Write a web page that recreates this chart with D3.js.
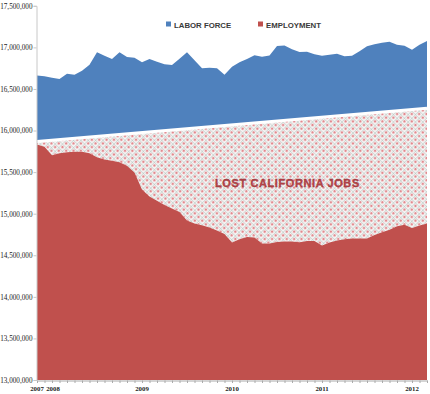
<!DOCTYPE html>
<html>
<head>
<meta charset="utf-8">
<script src="https://cdn.jsdelivr.net/npm/d3@7"></script>
<style>
  html, body { margin: 0; padding: 0; background: #fff; }
  svg { display: block; }
</style>
</head>
<body>
<svg id="canvas"></svg>
<script>
// monthly values, in thousands (Nov 2007 .. Mar 2012)
let laborForce = [16663, 16654, 16636, 16620, 16684, 16672, 16720, 16792, 16940, 16900,
  16861, 16940, 16885, 16876, 16820, 16861, 16828, 16798, 16788, 16864,
  16940, 16846, 16750, 16756, 16748, 16672, 16768, 16822, 16861, 16906,
  16888, 16903, 17017, 17024, 16978, 16945, 16948, 16918, 16900, 16912,
  16924, 16894, 16900, 16954, 17014, 17038, 17056, 17069, 17032, 17020,
  16972, 17032, 17077];

let employment = [15831, 15806, 15704, 15728, 15738, 15746, 15746, 15728, 15680, 15653,
  15638, 15620, 15576, 15494, 15290, 15206, 15157, 15103, 15061, 15019,
  14917, 14881, 14861, 14833, 14797, 14755, 14653, 14692, 14719, 14713,
  14641, 14641, 14659, 14665, 14665, 14656, 14671, 14671, 14617, 14655,
  14679, 14694, 14703, 14701, 14701, 14743, 14778, 14807, 14849, 14867,
  14829, 14859, 14881];

// trend line endpoints (first and last month)
let trend = [15867, 16269];

let yearLabels = ['2007', '2008', '2009', '2010', '2011', '2012'];
let yearIndex = [0, 2, 14, 26, 38, 50];

let yTicks = [13000, 13500, 14000, 14500, 15000, 15500, 16000, 16500, 17000, 17500];

let seriesNames = ['LABOR FORCE', 'EMPLOYMENT'];
let seriesColors = ['#4f81bd', '#c0504d'];

let canvas = d3.select('#canvas');

let drawChart = () => {
  const width = 430;
  const height = 394;
  canvas.attr('width', width).attr('height', height);

  const n = employment.length;
  const x = d3.scaleLinear().domain([0, n - 1]).range([37, 427]);
  const y = d3.scaleLinear().domain([13000000, 17500000]).range([380, 5.8]);

  const trendAt = i => trend[0] + (trend[1] - trend[0]) * i / (n - 1);

  // pattern for the lost jobs area
  const cell = 5.2;
  const defs = canvas.append('defs');
  const pat = defs.append('pattern')
    .attr('id', 'lattice')
    .attr('patternUnits', 'userSpaceOnUse')
    .attr('width', cell)
    .attr('height', cell)
    .attr('patternTransform', 'rotate(45)');
  pat.append('rect').attr('width', cell).attr('height', cell).attr('fill', '#f7f5f5');
  pat.append('path')
    .attr('d', `M0,0H${cell}M0,0V${cell}`)
    .attr('stroke', '#9fb5ae')
    .attr('stroke-width', 0.7);
  pat.append('circle')
    .attr('cx', cell / 2).attr('cy', cell / 2).attr('r', 1.3)
    .attr('fill', '#e3898e');

  const idx = d3.range(n);

  // labor force area, above the trend line
  canvas.append('path')
    .datum(idx)
    .attr('fill', seriesColors[0])
    .attr('d', d3.area()
      .x(i => x(i))
      .y0(i => y(trendAt(i) * 1000))
      .y1(i => y(laborForce[i] * 1000)));

  // lost jobs, between employment and the trend
  canvas.append('path')
    .datum(idx)
    .attr('fill', 'url(#lattice)')
    .attr('d', d3.area()
      .x(i => x(i))
      .y0(i => y(employment[i] * 1000))
      .y1(i => y(trendAt(i) * 1000)));

  // employment area
  canvas.append('path')
    .datum(idx)
    .attr('fill', seriesColors[1])
    .attr('d', d3.area()
      .x(i => x(i))
      .y0(y(13000000))
      .y1(i => y(employment[i] * 1000)));

  // white trend line
  canvas.append('line')
    .attr('x1', x(0)).attr('y1', y(trend[0] * 1000))
    .attr('x2', x(n - 1)).attr('y2', y(trend[1] * 1000))
    .attr('stroke', '#fff')
    .attr('stroke-width', 3);

  // y axis
  const yAxis = canvas.append('g')
    .attr('transform', 'translate(36.5,0)')
    .call(d3.axisLeft(y)
      .tickValues(yTicks.map(v => v * 1000))
      .tickSize(3)
      .tickFormat(d3.format(',')));
  yAxis.select('.domain').attr('stroke', '#c8c8c8');
  yAxis.selectAll('.tick line').attr('stroke', '#c8c8c8');
  yAxis.selectAll('text')
    .attr('font-family', 'Liberation Serif')
    .attr('font-size', 7.2)
    .attr('fill', '#222')
    .attr('x', -4)
    .attr('dy', '0.33em');

  // x axis: minor monthly ticks, labels at each year
  const xAxis = canvas.append('g')
    .attr('transform', 'translate(0,380.5)')
    .call(d3.axisBottom(x)
      .tickValues(idx)
      .tickSize(2.5)
      .tickFormat(''));
  xAxis.select('.domain').attr('stroke', '#aaa');
  xAxis.selectAll('.tick line').attr('stroke', '#aaa');

  canvas.append('g')
    .selectAll('text')
    .data(yearLabels)
    .enter()
    .append('text')
    .attr('x', (d, i) => x(yearIndex[i]) + (i === 1 ? 1 : 0))
    .attr('y', 391)
    .attr('text-anchor', 'middle')
    .attr('font-family', 'Liberation Serif')
    .attr('font-weight', 'bold')
    .attr('font-size', 6.8)
    .attr('fill', '#222')
    .text(d => d);

  // legend
  const legendX = [166, 258];
  const legend = canvas.append('g')
    .selectAll('g')
    .data(seriesNames)
    .enter()
    .append('g')
    .attr('transform', (d, i) => `translate(${legendX[i]},21)`);
  legend.append('rect')
    .attr('width', 5).attr('height', 5)
    .attr('y', 0.5)
    .attr('fill', (d, i) => seriesColors[i]);
  legend.append('text')
    .attr('x', 8)
    .attr('y', 6.5)
    .attr('font-family', 'Liberation Sans')
    .attr('font-weight', 'bold')
    .attr('font-size', 7.8)
    .attr('fill', '#3a3a3a')
    .text(d => d);

  // area label
  canvas.append('text')
    .attr('x', 215)
    .attr('y', 187)
    .attr('font-family', 'Liberation Sans')
    .attr('font-weight', 'bold')
    .attr('font-size', 11)
    .attr('letter-spacing', 0.6)
    .attr('fill', '#b8454a')
    .attr('stroke', '#8e2f33')
    .attr('stroke-width', 0.3)
    .text('LOST CALIFORNIA JOBS');
};

drawChart();
</script>
</body>
</html>
